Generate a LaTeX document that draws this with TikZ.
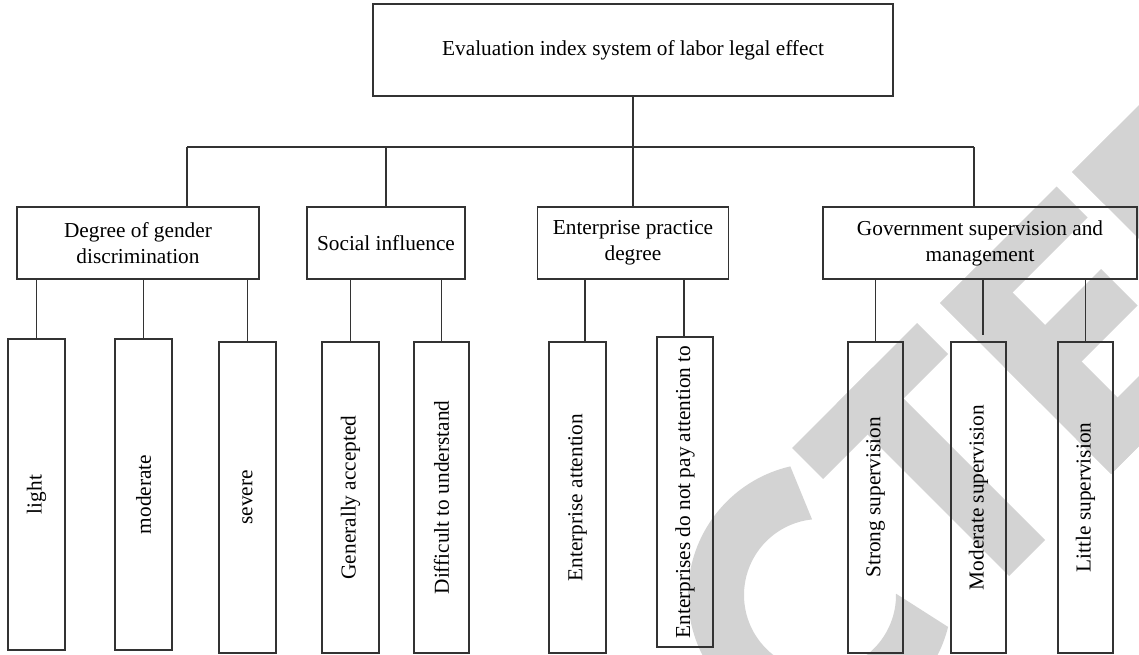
\documentclass[tikz,border=0pt]{standalone}
\usepackage{fontspec}
\setmainfont{Liberation Serif}
\usetikzlibrary{calc}
\definecolor{wm}{RGB}{211,211,211}
\definecolor{ln}{RGB}{51,51,51}
% watermark stroke given in rotated (s,t) coordinates: s = x - y, t = x + y
\newcommand\wmrect[4]{\fill[wm] ({(#1+#3)/2},{(#3-#1)/2}) -- ({(#2+#3)/2},{(#3-#2)/2}) -- ({(#2+#4)/2},{(#4-#2)/2}) -- ({(#1+#4)/2},{(#4-#1)/2}) -- cycle;}
\begin{document}
\begin{tikzpicture}[x=1pt,y=-1pt,
  box/.style={draw=ln, line width=1.1pt, inner sep=0pt, align=center,
              font=\fontsize{21.3}{26}\selectfont},
  leafbox/.style={draw=ln, line width=1.1pt, inner sep=0pt,
                  minimum width=#1, minimum height=311pt},
  leafbox/.default=57pt,
  leaftext/.style={rotate=90, inner sep=0pt, font=\fontsize{21.3}{24}\selectfont},
  conn/.style={draw=ln, line width=1.1pt}]
\useasboundingbox (0,0) rectangle (1139,654);
% watermark (behind everything)
\begin{scope}
\clip (0,0) rectangle (1139,654);
\wmrect{344}{594}{1240}{1302}
\wmrect{433}{505}{1240}{1585}
\wmrect{637}{720}{1243}{1585}
\wmrect{637}{870}{1243}{1305}
\wmrect{637}{832}{1370}{1443}
\wmrect{637}{880}{1515}{1585}
\wmrect{900}{985}{1244}{1585}
\wmrect{900}{1150}{1244}{1307}
\fill[wm] (820,595) ++(-103:132) arc[start angle=-103, end angle=-346, radius=132]
  -- ($(820,595)+(-361:76)$) arc[start angle=-361, end angle=-96, radius=76] -- cycle;
\end{scope}
% top
\node[box, minimum width=520pt, minimum height=92pt]
  (top) at (633,50) {Evaluation index system of labor legal effect};
% second level
\node[box, minimum width=242pt, minimum height=72pt] (deg) at (138,243) {Degree of gender\\discrimination};
\node[box, minimum width=158pt, minimum height=72pt] (soc) at (386,243) {Social influence};
\node[box, minimum width=191pt, minimum height=72pt] (ent) at (633,243) {Enterprise practice\\degree};
\node[box, minimum width=314pt, minimum height=72pt] (gov) at (980,243) {Government supervision and\\management};
% leaves
\node[leafbox] (l1) at (36.5,494.5) {};
\node[leafbox] (l2) at (143.5,494.5) {};
\node[leafbox] (l3) at (247.5,497.5) {};
\node[leafbox] (l4) at (350.5,497.5) {};
\node[leafbox=55pt] (l5) at (441.5,497.5) {};
\node[leafbox] (l6) at (577.5,497.5) {};
\node[leafbox=56pt, minimum height=310pt] (l7) at (685,492) {};
\node[leafbox=55pt] (l8) at (875.5,497.5) {};
\node[leafbox=55pt] (l9) at (978.5,497.5) {};
\node[leafbox=55pt] (l10) at (1085.5,497.5) {};
\node[leaftext] (t1) at (l1.center) {light};
\node[leaftext] (t2) at (l2.center) {moderate};
\node[leaftext] (t3) at (l3.center) {severe};
\node[leaftext] (t4) at (l4.center) {Generally accepted};
\node[leaftext] (t5) at (l5.center) {Difficult to understand};
\node[leaftext] (t6) at (l6.center) {Enterprise attention};
\node[leaftext] (t7) at (l7.center) {Enterprises do not pay attention to};
\node[leaftext] (t8) at (l8.center) {Strong supervision};
\node[leaftext] (t9) at (l9.center) {Moderate supervision};
\node[leaftext] (t10) at (l10.center) {Little supervision};
% connectors
\coordinate (busL) at (187,147);
\coordinate (busR) at (974,147);
\draw[conn] (top.south) -- (ent.north);
\draw[conn] (busL) -- (busR);
\draw[conn] (busL) -- (busL |- deg.north);
\draw[conn] (soc.north |- busL) -- (soc.north);
\draw[conn] (busR) -- (busR |- gov.north);
\draw[conn] (l1.north |- deg.south) -- (l1.north);
\draw[conn] (l2.north |- deg.south) -- (l2.north);
\draw[conn] (l3.north |- deg.south) -- (l3.north);
\draw[conn] (l4.north |- soc.south) -- (l4.north);
\draw[conn] (l5.north |- soc.south) -- (l5.north);
\draw[conn] ([xshift=7.5pt]l6.north |- ent.south) -- ([xshift=7.5pt]l6.north);
\draw[conn] ([xshift=-1pt]l7.north |- ent.south) -- ([xshift=-1pt]l7.north);
\draw[conn] (l8.north |- gov.south) -- (l8.north);
\draw[conn] ([xshift=4.5pt]l9.north |- gov.south) -- ([xshift=4.5pt,yshift=6pt]l9.north);
\draw[conn] (l10.north |- gov.south) -- (l10.north);
\end{tikzpicture}
\end{document}
